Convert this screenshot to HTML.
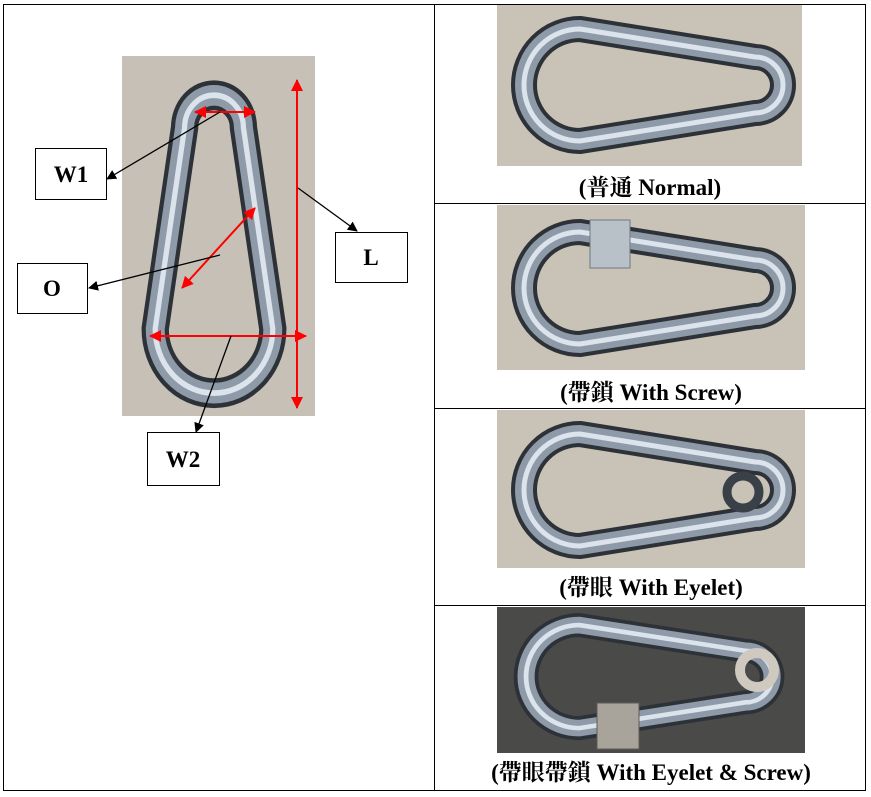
<!DOCTYPE html>
<html><head><meta charset="utf-8"><style>
body{margin:0;background:#fff;width:871px;height:797px;overflow:hidden}
svg{display:block}
.cap{font-family:"Liberation Serif","Noto Serif CJK SC",serif;font-weight:bold;font-size:23px;fill:#000}
.lb{font-family:"Liberation Serif",serif;font-weight:bold;font-size:23px}
</style></head><body>
<svg width="871" height="797" viewBox="0 0 871 797" xmlns="http://www.w3.org/2000/svg">
<defs>
<marker id="ab" markerWidth="10" markerHeight="10" refX="9" refY="5" orient="auto" markerUnits="userSpaceOnUse"><path d="M0,0 L10,5 L0,10 z" fill="#000"/></marker>
<marker id="ar" markerWidth="12" markerHeight="12" refX="11" refY="6" orient="auto-start-reverse" markerUnits="userSpaceOnUse"><path d="M0,0 L12,6 L0,12 z" fill="#f00"/></marker>
<g id="cb">
<path d="M75,24 L250,52 A28,28 0 0 1 250,108 L75,136 A56,56 0 0 1 75,24 Z" fill="none" stroke="#2d3238" stroke-width="26"/>
<path d="M75,24 L250,52 A28,28 0 0 1 250,108 L75,136 A56,56 0 0 1 75,24 Z" fill="none" stroke="#8f9aa8" stroke-width="18"/>
<path d="M75,24 L250,52 A28,28 0 0 1 250,108 L75,136 A56,56 0 0 1 75,24 Z" fill="none" stroke="#dbe3ec" stroke-width="5"/>
</g>
</defs>
<rect x="3.5" y="4.5" width="862" height="786" fill="none" stroke="#000"/>
<line x1="434.5" y1="4" x2="434.5" y2="791" stroke="#000"/>
<line x1="434" y1="203.5" x2="866" y2="203.5" stroke="#000"/>
<line x1="434" y1="408.5" x2="866" y2="408.5" stroke="#000"/>
<line x1="434" y1="605.5" x2="866" y2="605.5" stroke="#000"/>

<rect x="122" y="56" width="193" height="360" fill="#c6c0b6"/>
<g transform="translate(130,415) rotate(-90) scale(1.15,1.05)"><use href="#cb"/></g>
<line x1="297" y1="80" x2="297" y2="408" stroke="#f00" stroke-width="2" marker-start="url(#ar)" marker-end="url(#ar)"/>
<line x1="195" y1="112" x2="255" y2="112" stroke="#f00" stroke-width="2" marker-start="url(#ar)" marker-end="url(#ar)"/>
<line x1="182" y1="288" x2="255" y2="208" stroke="#f00" stroke-width="2" marker-start="url(#ar)" marker-end="url(#ar)"/>
<line x1="150" y1="336" x2="306" y2="336" stroke="#f00" stroke-width="2" marker-start="url(#ar)" marker-end="url(#ar)"/>
<line x1="220" y1="112" x2="107" y2="179" stroke="#000" stroke-width="1.3" marker-end="url(#ab)"/>
<line x1="220" y1="255" x2="89" y2="288" stroke="#000" stroke-width="1.3" marker-end="url(#ab)"/>
<line x1="298" y1="188" x2="357" y2="231" stroke="#000" stroke-width="1.3" marker-end="url(#ab)"/>
<line x1="231" y1="336" x2="196" y2="432" stroke="#000" stroke-width="1.3" marker-end="url(#ab)"/>
<rect x="35.5" y="148.5" width="71" height="51" fill="#fff" stroke="#000"/>
<text x="71" y="182" class="lb" text-anchor="middle">W1</text>
<rect x="17.5" y="263.5" width="70" height="50" fill="#fff" stroke="#000"/>
<text x="52" y="296" class="lb" text-anchor="middle">O</text>
<rect x="335.5" y="232.5" width="72" height="50" fill="#fff" stroke="#000"/>
<text x="371" y="265" class="lb" text-anchor="middle">L</text>
<rect x="147.5" y="432.5" width="72" height="53" fill="#fff" stroke="#000"/>
<text x="183" y="467" class="lb" text-anchor="middle">W2</text>

<rect x="497" y="5" width="305" height="161" fill="#c9c2b6"/>
<g transform="translate(505,5)"><use href="#cb"/></g>
<text x="650" y="195" class="cap" text-anchor="middle">(普通  Normal)</text>

<rect x="497" y="205" width="308" height="165" fill="#c9c2b6"/>
<g transform="translate(505,208)"><use href="#cb"/></g>
<rect x="590" y="220" width="40" height="48" fill="#b8c0c8" stroke="#707880"/>
<text x="651" y="400" class="cap" text-anchor="middle">(帶鎖 With Screw)</text>

<rect x="497" y="410" width="308" height="158" fill="#c9c2b6"/>
<g transform="translate(505,410)"><use href="#cb"/></g>
<circle cx="743" cy="492" r="16" fill="none" stroke="#3a4048" stroke-width="9"/>
<text x="651" y="595" class="cap" text-anchor="middle">(帶眼 With Eyelet)</text>

<rect x="497" y="607" width="308" height="146" fill="#4a4a48"/>
<g transform="translate(508,603) scale(0.95,0.92)"><use href="#cb"/></g>
<circle cx="757" cy="670" r="17" fill="none" stroke="#cfc9c0" stroke-width="10"/>
<rect x="597" y="703" width="42" height="46" fill="#a8a49c" stroke="#605c56"/>
<text x="651" y="780" class="cap" text-anchor="middle">(帶眼帶鎖 With Eyelet &amp; Screw)</text>
</svg>
</body></html>
